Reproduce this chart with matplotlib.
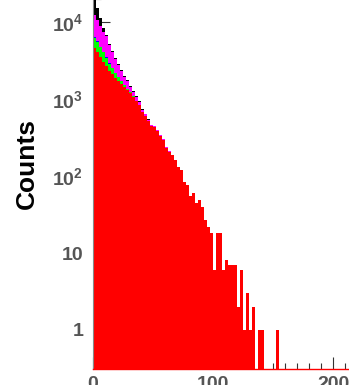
import numpy as np
import matplotlib
matplotlib.use("Agg")
import matplotlib.pyplot as plt

plt.rcParams['font.family'] = ['Liberation Sans', 'DejaVu Sans']
plt.rcParams['mathtext.fontset'] = 'custom'
plt.rcParams['mathtext.rm'] = 'Liberation Sans'
plt.rcParams['mathtext.bf'] = 'Liberation Sans:bold'

# histogram binning (2.5 wide bins)
bin_width = 2.5
n_bins = 100

# counts per bin, stacked bottom -> top
red = [4600, 4100, 3500, 3020, 2690, 2300, 2100, 1870, 1700, 1560,
       1440, 1310, 1200, 1060, 940, 830, 680, 600, 520, 445,
       435, 385, 330, 295, 230, 205, 187, 162, 130, 120,
       83, 76, 55, 60, 45, 49, 40, 27, 22, 18,
       6, 18, 18, 6, 8, 7, 7, 7, 2, 6,
       1, 3, 1, 2, 0, 1, 1, 0, 0, 0,
       0, 1]
green = [1610, 1420, 1220, 1020, 760, 580, 420, 300, 210, 140,
         90, 55, 35, 20, 12, 8, 5]
blue = [120, 100, 80, 60, 50, 40, 30, 20, 15, 10]
magenta = [6000, 5000, 4070, 3320, 3090, 2100, 1520, 1120, 835, 590,
           410, 345, 195, 150, 108, 72, 40, 30, 15, 12,
           12, 10, 8, 7, 5, 5]
black = [20000, 4600, 2390, 940, 150, 150, 120, 100, 80, 70,
         60, 50, 40, 35, 30, 25, 15, 10, 8, 6,
         6, 5, 4, 3]

layers = [(red, '#ff0000'), (green, '#00ff00'), (blue, '#0000ff'),
          (magenta, '#ff00ff'), (black, '#000000')]

edges = np.arange(n_bins + 1) * bin_width
centers = edges[:-1] + bin_width / 2

def full(vals):
    out = np.zeros(n_bins)
    out[:len(vals)] = vals
    return out

fig = plt.figure(figsize=(3.49, 3.85), dpi=100)
ax = fig.add_axes([0.2665, 0.0416, 0.8596, 1.101])

bottom = np.zeros(n_bins)
for vals, col in layers:
    h = full(vals)
    ax.bar(centers, h, width=bin_width, bottom=bottom, color=col,
           linewidth=0, antialiased=False, zorder=1)
    bottom = bottom + h

ax.set_yscale('log')
ax.set_ylim(0.3114, 1e5)
ax.set_xlim(0, 250)
ax.set_axisbelow(True)

lab_col = '#555555'
ax.set_yticks([1, 10, 100, 1000, 10000])
ax.set_yticklabels(['1', '10', r'$\mathbf{10^{2}}$', r'$\mathbf{10^{3}}$',
                    r'$\mathbf{10^{4}}$'])
ax.set_xticks([0, 100, 200])
ax.set_xticks(np.arange(0, 251, 10), minor=True)
ax.set_xticklabels(['0', '100', '200'])
for t in ax.get_xticklabels() + ax.get_yticklabels():
    t.set_fontweight('bold')
    t.set_fontsize(14)
    t.set_color(lab_col)

ax.tick_params(axis='both', which='both', direction='in', color='#333333',
               width=0.8)
ax.tick_params(axis='y', which='major', length=12, pad=7)
ax.tick_params(axis='y', which='minor', length=6)
ax.tick_params(axis='x', which='major', length=9, pad=5)
ax.tick_params(axis='x', which='minor', length=4.5)

ax.spines['left'].set_color('#888888')
ax.spines['left'].set_linewidth(0.8)
ax.spines['bottom'].set_color('#ff0000')
ax.spines['bottom'].set_linewidth(1.0)
ax.spines['top'].set_visible(False)
ax.spines['right'].set_visible(False)

fig.text(27 / 349, 1 - 164 / 385, 'Counts', rotation=90, fontsize=19,
         fontweight='bold', ha='center', va='center', color='black')

fig.savefig('out.png', dpi=100)
